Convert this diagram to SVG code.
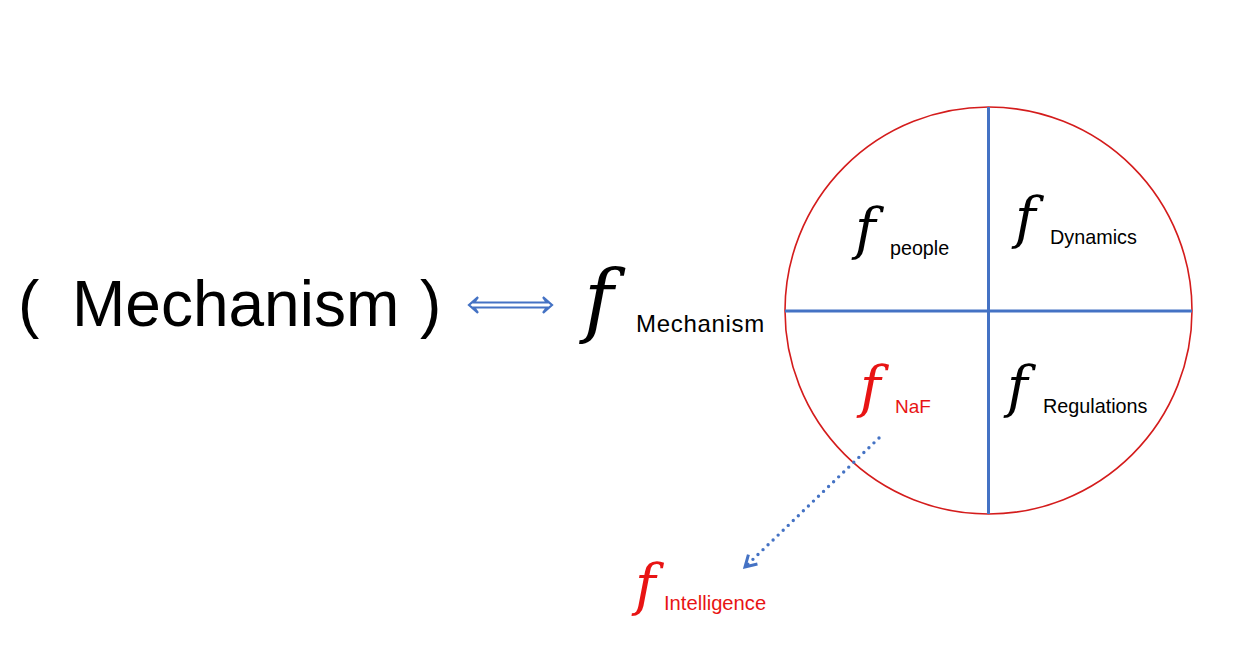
<svg xmlns="http://www.w3.org/2000/svg" width="1246" height="669" viewBox="0 0 1246 669">
<style>
.sans{font-family:"Liberation Sans",Arial,sans-serif;}
.fn{font-family:"DejaVu Serif","Liberation Serif",serif;}
.blk{fill:#000;}
.red{fill:#E81414;}
.blue{stroke:#4472C4;fill:none;}
</style>
<defs>
<marker id="chev" viewBox="0 0 16 16" refX="13" refY="8" markerWidth="16" markerHeight="16" markerUnits="userSpaceOnUse" orient="auto">
<path d="M2,1.5 L13,8 L2,14.5" fill="none" stroke="#4472C4" stroke-width="3" stroke-linejoin="miter"/>
</marker>
</defs>
<rect width="1246" height="669" fill="#fff"/>

<g id="left-label">
<text class="sans blk" x="18" y="326" font-size="64">(</text>
<text class="sans blk" x="72" y="326" font-size="64">Mechanism</text>
<text class="sans blk" x="420" y="326" font-size="64">)</text>
</g>

<g id="f-mechanism">
<text class="fn blk" x="584" y="327" font-size="80">𝑓</text>
<text class="sans blk" x="636" y="332" font-size="24" letter-spacing="0.7">Mechanism</text>
</g>

<g id="circle">
<circle cx="988.5" cy="310.5" r="203.5" fill="none" stroke="#D41C1C" stroke-width="1.6"/>
<line class="blue" x1="988.5" y1="107" x2="988.5" y2="514" stroke-width="3"/>
<line class="blue" x1="785" y1="311" x2="1192" y2="311" stroke-width="3"/>
</g>

<g id="f-people">
<text class="fn blk" x="855" y="248" font-size="56">𝑓</text>
<text class="sans blk" x="890" y="255" font-size="19.7">people</text>
</g>
<g id="f-dynamics">
<text class="fn blk" x="1015" y="237" font-size="56">𝑓</text>
<text class="sans blk" x="1050" y="244" font-size="19.8">Dynamics</text>
</g>
<g id="f-naf">
<text class="fn red" x="860" y="406" font-size="56">𝑓</text>
<text class="sans red" x="895" y="413" font-size="19">NaF</text>
</g>
<g id="f-regulations">
<text class="fn blk" x="1007" y="406" font-size="56">𝑓</text>
<text class="sans blk" x="1043" y="413" font-size="19.8">Regulations</text>
</g>
<g id="f-intelligence">
<text class="fn red" x="635" y="604" font-size="56">𝑓</text>
<text class="sans red" x="664" y="610" font-size="20.2">Intelligence</text>
</g>

<g id="connectors">
<path class="blue" stroke-width="2.2" d="M478,297 L469,305 L478,313 M478,297 L474,302.5 L547,302.5 L543,297 M478,313 L474,307.5 L547,307.5 L543,313 M543,297 L552,305 L543,313"/>
<line class="blue" x1="879" y1="438" x2="745" y2="567" stroke-width="3.4" stroke-linecap="round" stroke-dasharray="0 7" marker-end="url(#chev)"/>
</g>
</svg>
